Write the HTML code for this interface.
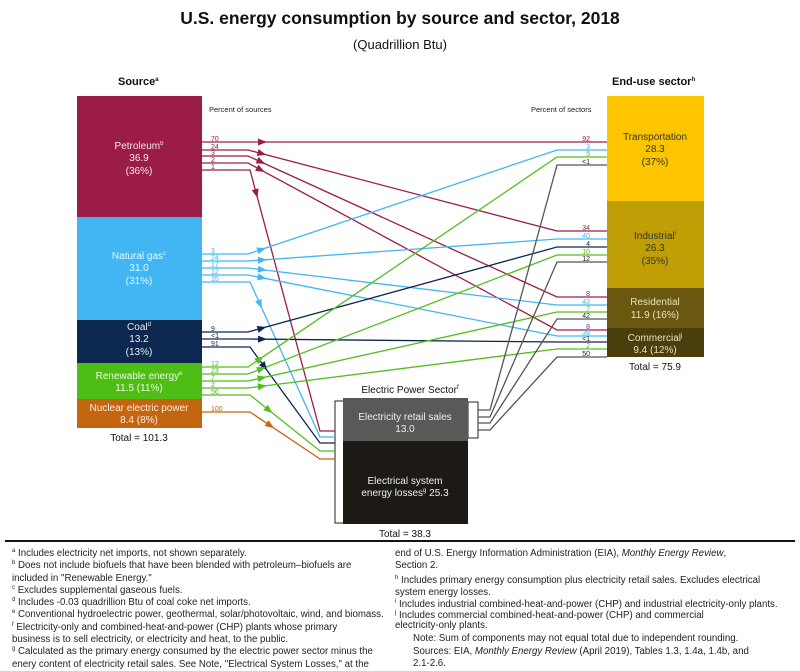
<!DOCTYPE html>
<html><head><meta charset="utf-8"><style>
body{margin:0;width:800px;height:666px;background:#fff;font-family:"Liberation Sans",sans-serif;overflow:hidden;position:relative}
.ft{position:absolute;font-size:9.7px;color:#222;line-height:12.3px;white-space:nowrap}
sup{font-size:6px;vertical-align:4px;line-height:0}
</style></head><body>
<svg id="s" width="800" height="666" style="position:absolute;left:0;top:0" font-family="Liberation Sans, sans-serif">
<text x="400" y="24" text-anchor="middle" font-size="17.5" font-weight="bold" fill="#111">U.S. energy consumption by source and sector, 2018</text>
<text x="400" y="49" text-anchor="middle" font-size="13" fill="#111">(Quadrillion Btu)</text>
<text x="118" y="85" font-size="11" font-weight="bold" fill="#111">Source<tspan font-size="6" dy="-4">a</tspan></text>
<text x="612" y="85" font-size="11" font-weight="bold" fill="#111">End-use sector<tspan font-size="6" dy="-4">h</tspan></text>
<text x="209" y="112" font-size="7.5" fill="#222">Percent of sources</text>
<text x="531" y="112" font-size="7.5" fill="#222">Percent of sectors</text>
<rect x="77" y="96" width="125" height="121" fill="#9b1c47"/>
<rect x="77" y="217" width="125" height="103" fill="#41b6f2"/>
<rect x="77" y="320" width="125" height="43" fill="#0c2750"/>
<rect x="77" y="363" width="125" height="36" fill="#4fbe14"/>
<rect x="77" y="399" width="125" height="29" fill="#c4650f"/>
<g fill="#fff" font-size="10" text-anchor="middle" opacity="0.9">
<text x="139" y="149">Petroleum<tspan font-size="6" dy="-4">b</tspan></text><text x="139" y="161">36.9</text><text x="139" y="174">(36%)</text>
<text x="139" y="259">Natural gas<tspan font-size="6" dy="-4">c</tspan></text><text x="139" y="271">31.0</text><text x="139" y="284">(31%)</text>
<text x="139" y="330">Coal<tspan font-size="6" dy="-4">d</tspan></text><text x="139" y="342">13.2</text><text x="139" y="355">(13%)</text>
<text x="139" y="379">Renewable energy<tspan font-size="6" dy="-4">e</tspan></text><text x="139" y="391">11.5 (11%)</text>
<text x="139" y="411">Nuclear electric power</text><text x="139" y="423">8.4 (8%)</text>
</g>
<text x="139" y="441" text-anchor="middle" font-size="10" fill="#111">Total = 101.3</text>
<rect x="607" y="96" width="97" height="105" fill="#fdc500"/>
<rect x="607" y="201" width="97" height="87" fill="#c09e06"/>
<rect x="607" y="288" width="97" height="40" fill="#6a5810"/>
<rect x="607" y="328" width="97" height="29" fill="#4a3e0c"/>
<g font-size="10" text-anchor="middle">
<text x="655" y="140" fill="#333">Transportation</text><text x="655" y="152" fill="#333">28.3</text><text x="655" y="165" fill="#333">(37%)</text>
<text x="655" y="239" fill="#333">Industrial<tspan font-size="6" dy="-4">i</tspan></text><text x="655" y="251" fill="#333">26.3</text><text x="655" y="264" fill="#333">(35%)</text>
<text x="655" y="305" fill="#e8e0c0">Residential</text><text x="655" y="318" fill="#e8e0c0">11.9 (16%)</text>
<text x="655" y="341" fill="#e8e0c0">Commercial<tspan font-size="6" dy="-4">j</tspan></text><text x="655" y="353" fill="#e8e0c0">9.4 (12%)</text>
</g>
<text x="655" y="370" text-anchor="middle" font-size="10" fill="#111">Total = 75.9</text>
<text x="410" y="393" text-anchor="middle" font-size="10" fill="#111">Electric Power Sector<tspan font-size="6" dy="-4">f</tspan></text>
<rect x="335" y="401" width="9" height="122" fill="#fff" stroke="#222" stroke-width="1"/>
<rect x="468" y="402" width="10" height="36" fill="#fff" stroke="#222" stroke-width="1"/>
<rect x="343" y="398" width="125" height="43" fill="#595959"/>
<rect x="343" y="441" width="125" height="83" fill="#1d1a16"/>
<g fill="#eee" font-size="10" text-anchor="middle">
<text x="405" y="420">Electricity retail sales</text><text x="405" y="432">13.0</text>
<text x="405" y="484">Electrical system</text><text x="405" y="496">energy losses<tspan font-size="6" dy="-4">g</tspan><tspan dy="4"> 25.3</tspan></text>
</g>
<text x="405" y="537" text-anchor="middle" font-size="10" fill="#111">Total = 38.3</text>
<g id="lines" fill="none" stroke-width="1.3"></g>
<g id="arrows"></g>
<g font-size="7" >
<g fill="#9b1c47"><text x="211" y="141">70</text><text x="211" y="149">24</text><text x="211" y="155">3</text><text x="211" y="162">2</text><text x="211" y="169">1</text></g>
<g fill="#41b6f2"><text x="211" y="253">3</text><text x="211" y="260">24</text><text x="211" y="267">17</text><text x="211" y="274">12</text><text x="211" y="281">35</text></g>
<g fill="#0c2750"><text x="211" y="331">9</text><text x="211" y="338">&lt;1</text><text x="211" y="346">91</text></g>
<g fill="#4fbe14"><text x="211" y="366">12</text><text x="211" y="373">23</text><text x="211" y="380">7</text><text x="211" y="387">2</text><text x="211" y="394">56</text></g>
<g fill="#c4650f"><text x="211" y="411">100</text></g>
</g>
<g font-size="7" text-anchor="end">
<text x="590" y="141" fill="#9b1c47">92</text><text x="590" y="149" fill="#41b6f2">3</text><text x="590" y="156" fill="#4fbe14">5</text><text x="590" y="164" fill="#222">&lt;1</text>
<text x="590" y="230" fill="#9b1c47">34</text><text x="590" y="238" fill="#41b6f2">40</text><text x="590" y="246" fill="#222">4</text><text x="590" y="254" fill="#4fbe14">10</text><text x="590" y="261" fill="#222">12</text>
<text x="590" y="296" fill="#9b1c47">8</text><text x="590" y="304" fill="#41b6f2">43</text><text x="590" y="311" fill="#4fbe14">7</text><text x="590" y="318" fill="#222">42</text>
<text x="590" y="329" fill="#9b1c47">8</text><text x="590" y="335" fill="#41b6f2">38</text><text x="590" y="341" fill="#222">&lt;1</text><text x="590" y="348" fill="#4fbe14">2</text><text x="590" y="356" fill="#222">50</text>
</g>
<line x1="5" y1="541" x2="795" y2="541" stroke="#111" stroke-width="2"/>
</svg>
<div class="ft" style="left:12px;top:548px">
<div><sup>a</sup> Includes electricity net imports, not shown separately.</div>
<div><sup>b</sup> Does not include biofuels that have been blended with petroleum–biofuels are<br>included in "Renewable Energy."</div>
<div><sup>c</sup> Excludes supplemental gaseous fuels.</div>
<div><sup>d</sup> Includes -0.03 quadrillion Btu of coal coke net imports.</div>
<div><sup>e</sup> Conventional hydroelectric power, geothermal, solar/photovoltaic, wind, and biomass.</div>
<div><sup>f</sup> Electricity-only and combined-heat-and-power (CHP) plants whose primary<br>business is to sell electricity, or electricity and heat, to the public.</div>
<div><sup>g</sup> Calculated as the primary energy consumed by the electric power sector minus the<br>enery content of electricity retail sales. See Note, "Electrical System Losses," at the</div>
</div>
<div class="ft" style="left:395px;top:548px">
<div>end of U.S. Energy Information Administration (EIA), <i>Monthly Energy Review</i>,<br>Section 2.</div>
<div style="margin-top:2px"><sup>h</sup> Includes primary energy consumption plus electricity retail sales. Excludes electrical<br>system energy losses.</div>
<div><sup>i</sup> Includes industrial combined-heat-and-power (CHP) and industrial electricity-only plants.</div>
<div style="line-height:10px"><sup>j</sup> Includes commercial combined-heat-and-power (CHP) and commercial<br>electricity-only plants.</div>
<div style="margin-left:18px;margin-top:2px">Note: Sum of components may not equal total due to independent rounding.</div>
<div style="margin-left:18px">Sources: EIA, <i>Monthly Energy Review</i> (April 2019), Tables 1.3, 1.4a, 1.4b, and<br>2.1-2.6.</div>
</div>
<script>
var L=document.getElementById('lines'),A=document.getElementById('arrows'),NS='http://www.w3.org/2000/svg';
function p(d,c){var e=document.createElementNS(NS,'path');e.setAttribute('d',d);e.setAttribute('stroke',c);L.appendChild(e);}
function arrow(x,y,ang,c){var e=document.createElementNS(NS,'polygon');e.setAttribute('points','0,-3.5 9,0 0,3.5');e.setAttribute('fill',c);e.setAttribute('transform','translate('+x+','+y+') rotate('+ang+')');A.appendChild(e);}
var P='#9b1c47',G='#41b6f2',C='#0c2750',R='#52bf1e',N='#c4650f';
function src(y0,yd,c){var x1=248,x2=557;p('M202,'+y0+'H'+x1+'L'+x2+','+yd+'H607',c);
 var a=Math.atan2(yd-y0,x2-x1);var d=14;arrow(x1+d*Math.cos(a)-4*Math.cos(a),y0+d*Math.sin(a)-4*Math.sin(a),a*180/Math.PI,c);}
function el(y0,ye,c,x1){x1=x1||248;var x2=320;p('M202,'+y0+'H'+x1+'L'+x2+','+ye+'H335',c);
 var a=Math.atan2(ye-y0,x2-x1);var d=20;arrow(x1+d*Math.cos(a),y0+d*Math.sin(a),a*180/Math.PI,c);}
src(142,142,P);src(150,231,P);src(156,297,P);src(163,330,P);el(170,431,P,250);
src(254,150,G);src(261,239,G);src(268,305,G);src(275,336,G);el(282,437,G,250);
src(332,247,C);src(339,342,C);el(347,443,C,250);
src(367,157,R);src(374,255,R);src(381,312,R);src(388,349,R);el(395,451,R,250);
el(412,459,N,250);
var gy=[[410,165],[417,262],[423,319],[430,357]];
gy.forEach(function(v){p('M478,'+v[0]+'H490L557,'+v[1]+'H607','#555');});
</script>
</body></html>
